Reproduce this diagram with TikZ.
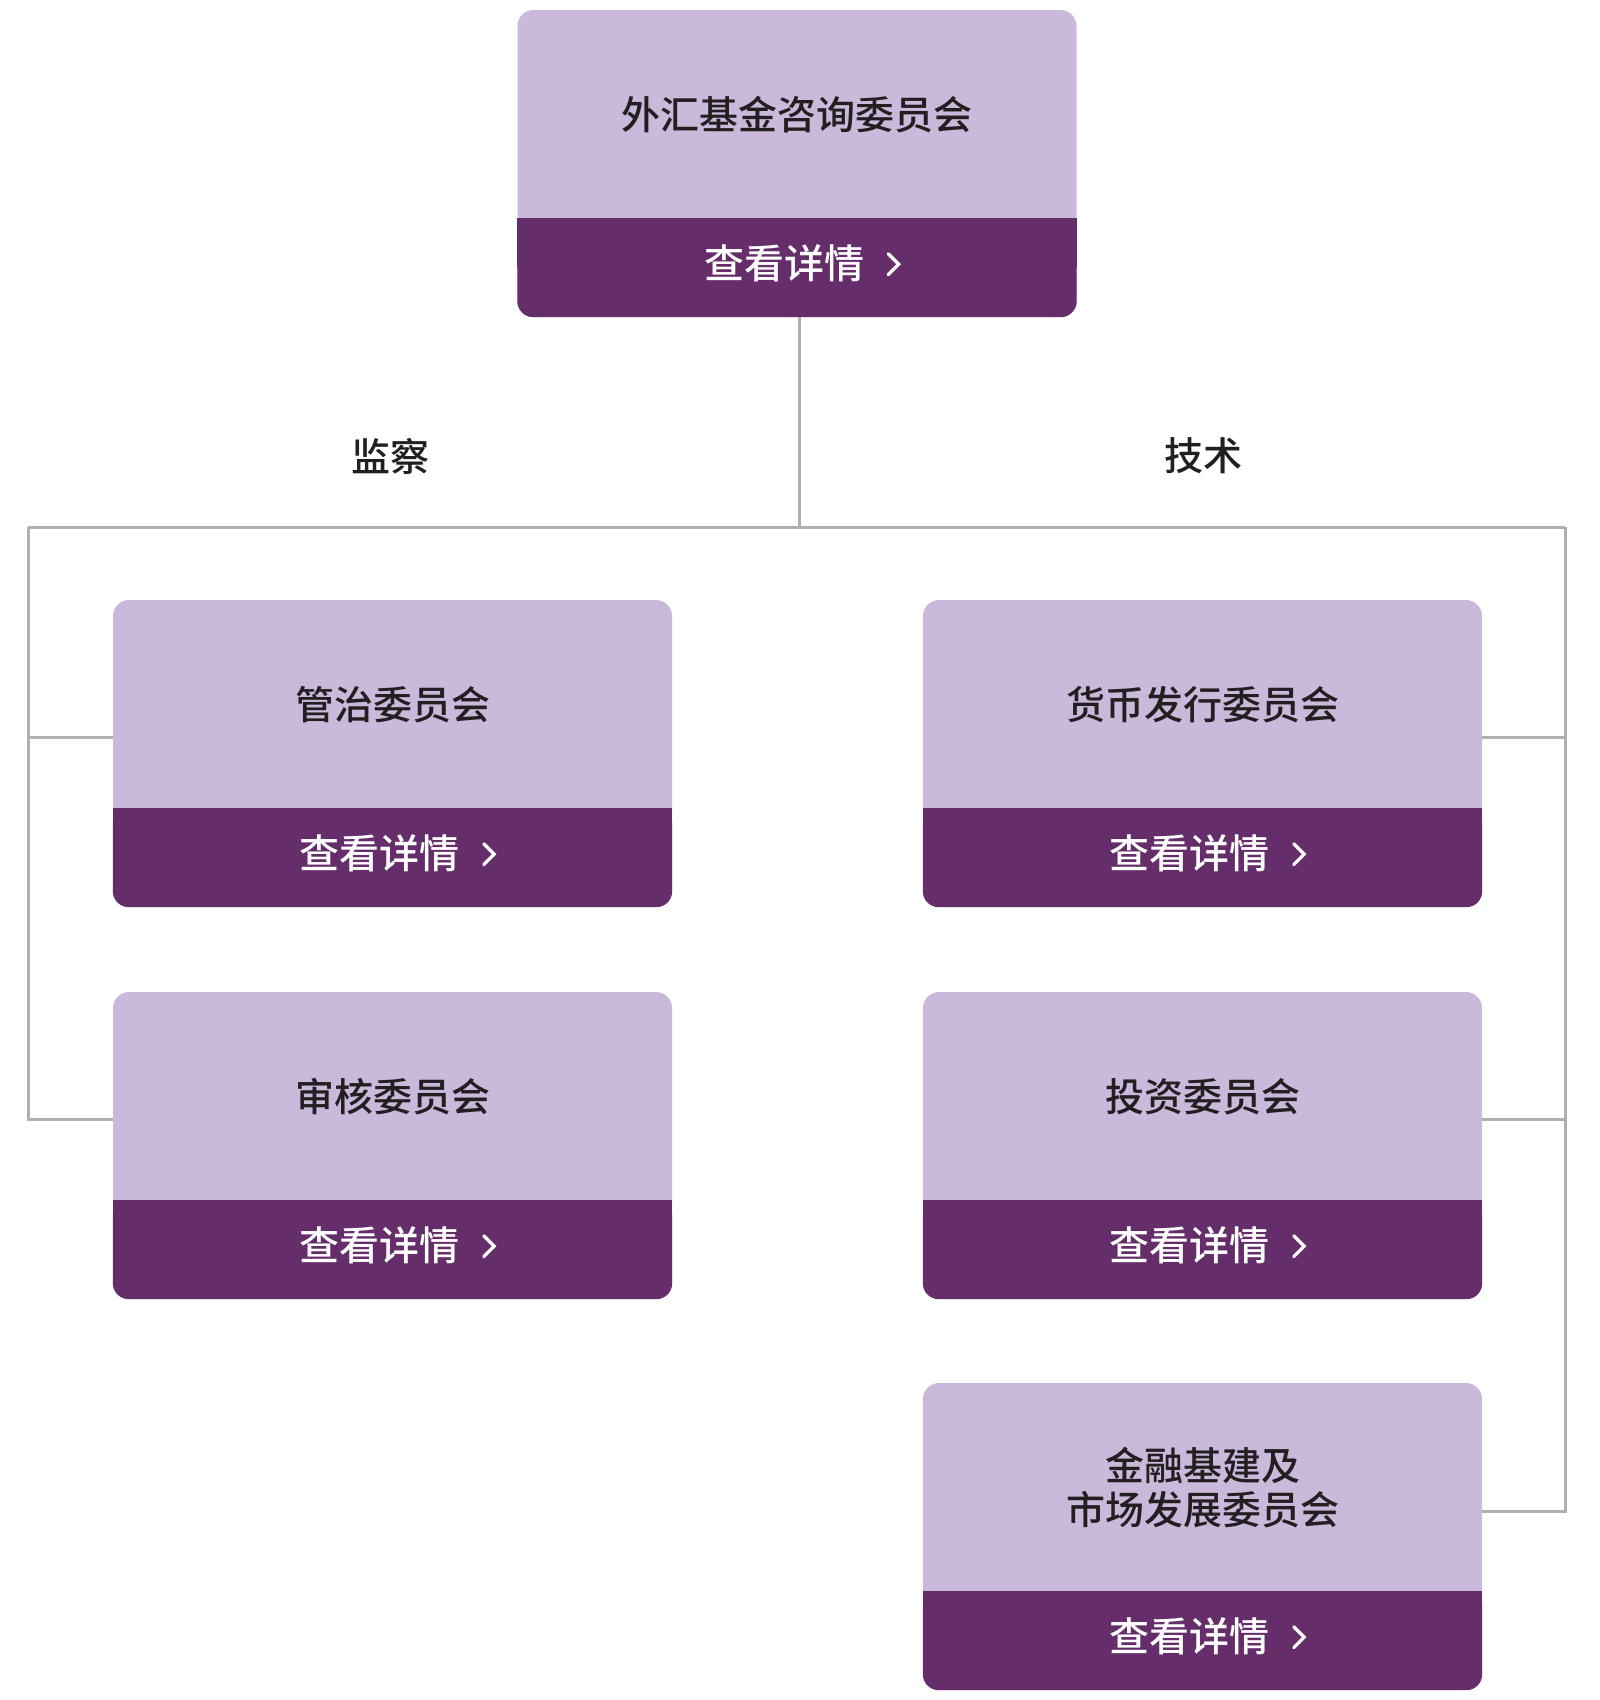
\documentclass[tikz,border=0pt]{standalone}
\usepackage{fontspec}
\setmainfont{Noto Sans CJK SC}
\newfontfamily\medfont{Noto Sans CJK SC Medium}
\usetikzlibrary{calc}
\definecolor{lightp}{HTML}{CBB9DC}
\definecolor{darkp}{HTML}{652D69}
\definecolor{linegray}{HTML}{B0B0B0}
\definecolor{txt}{HTML}{231F20}
\tikzset{
  boxbg/.style={fill=lightp, rounded corners=16pt, minimum width=559pt, minimum height=307pt, inner sep=0pt, draw=none},
  titletext/.style={text=txt, font=\medfont\fontsize{39}{43.5}\selectfont, align=center, inner sep=0pt},
  btntext/.style={text=white, font=\medfont\fontsize{40}{46}\selectfont, inner sep=0pt},
  lbltext/.style={text=txt, font=\medfont\fontsize{39}{44}\selectfont, inner sep=0pt},
  chev/.style={draw=white, line width=3.2pt, line cap=round, line join=miter},
  conn/.style={draw=linegray, line width=3pt},
}
\newcommand\cbox[4]{%
  \node[boxbg] (#1) at (#2,-#3-153.5) {};
  \fill[darkp, rounded corners=16pt] (#1.south west) rectangle ([yshift=99pt]#1.south east);
  \fill[darkp] ([yshift=99pt]#1.south west) rectangle ([yshift=50pt]#1.south east);
  \node[titletext] (#1-t) at ([yshift=-105pt]#1.north) {#4};
  \node[btntext] (#1-b) at ([xshift=-13pt,yshift=54pt]#1.south) {查看详情};
  \coordinate (#1-c) at ([xshift=24pt,yshift=-1pt]#1-b.east);
  \draw[chev] ([yshift=10.5pt]#1-c) -- ([xshift=10.5pt]#1-c) -- ([yshift=-10.5pt]#1-c);
}
\begin{document}
\begin{tikzpicture}[x=1pt,y=1pt]
\useasboundingbox (0,0) rectangle (1600,-1700);
\coordinate (hubL) at (28,-527);
\coordinate (hubR) at (1565,-527);
\coordinate (hubM) at (799,-527);
\coordinate (topbot) at (799,-317);
\cbox{top}{797}{10}{外汇基金咨询委员会}
\cbox{gov}{392.5}{600}{管治委员会}
\cbox{aud}{392.5}{992}{审核委员会}
\cbox{cur}{1202.5}{600}{货币发行委员会}
\cbox{inv}{1202.5}{992}{投资委员会}
\cbox{fin}{1202.5}{1383}{金融基建及\\市场发展委员会}
\draw[conn] (topbot) -- (hubM);
\draw[conn] (hubL) -- (hubR);
\coordinate (gL) at ([yshift=-138pt]gov.north west);
\coordinate (aL) at ([yshift=-128pt]aud.north west);
\coordinate (cR) at ([yshift=-138pt]cur.north east);
\coordinate (iR) at ([yshift=-128pt]inv.north east);
\coordinate (fR) at ([yshift=-129pt]fin.north east);
\draw[conn] (hubL) -- (hubL |- aL) -- (aL);
\draw[conn] (hubL |- gL) -- (gL);
\draw[conn] (hubR) -- (hubR |- fR) -- (fR);
\draw[conn] (hubR |- cR) -- (cR);
\draw[conn] (hubR |- iR) -- (iR);
\node[lbltext] (lab1) at (390,-456) {监察};
\node[lbltext] (lab2) at (1203,-456) {技术};
\end{tikzpicture}
\end{document}
